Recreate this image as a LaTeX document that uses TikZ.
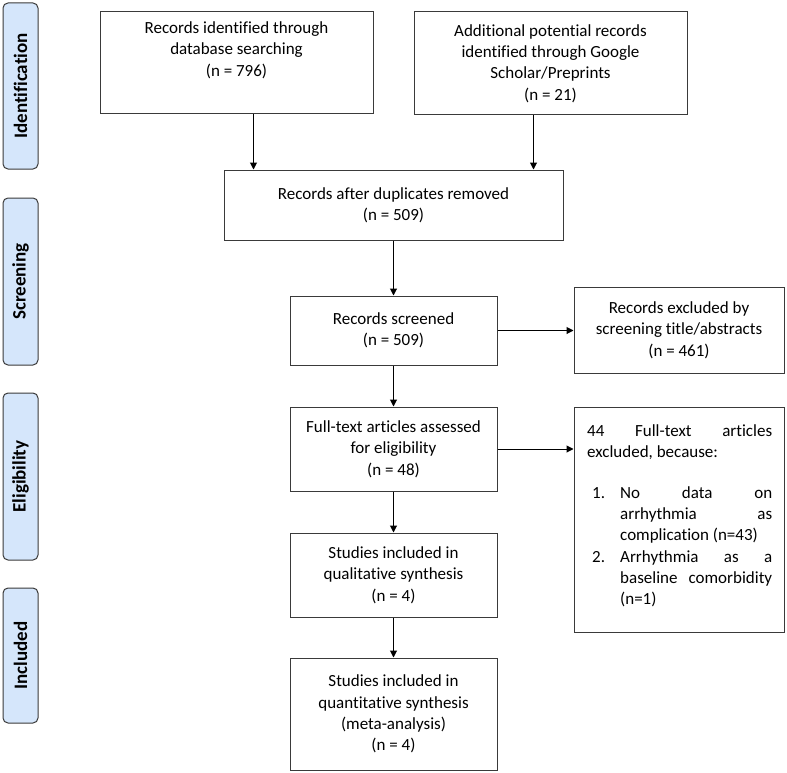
\documentclass[tikz,border=0pt]{standalone}
\usepackage{fontspec}
\setmainfont{Carlito}[Ligatures={NoCommon}]
\usetikzlibrary{arrows.meta,calc}
\definecolor{sidefill}{HTML}{D5E6FB}
\definecolor{edge}{HTML}{3A3A3A}
\begin{document}
\begin{tikzpicture}[x=1pt,y=-1pt,
  box/.style={draw=edge, line width=1pt, align=center, inner sep=0pt,
    font=\fontsize{17}{21.3}\selectfont},
  txt/.style={align=center, inner sep=0pt, font=\fontsize{17}{21.3}\selectfont},
  side/.style={draw=edge, fill=sidefill, rounded corners=5pt, line width=1pt,
    minimum height=35pt, rotate=90, inner sep=0pt,
    font=\fontsize{19}{22}\selectfont\bfseries},
  arr/.style={draw=black, line width=1pt, -{Triangle[length=7pt,width=7pt]}}
]
\useasboundingbox (0,0) rectangle (787,773);

% side labels
\node[side, minimum width=166pt] (s1) at (20.5,86) {Identification};
\node[side, minimum width=167pt] (s2) at (20.5,281.5) {Screening};
\node[side, minimum width=167pt] (s3) at (20.5,476.5) {Eligibility};
\node[side, minimum width=135pt] (s4) at (20.5,655.5) {Included};

% boxes
\node[box, minimum width=273pt, minimum height=102pt] (b1) at (236.5,63) {};
\node[txt] (t1) at (236.5,50) {Records identified through\\database searching\\(n = 796)};
\node[box, minimum width=273pt, minimum height=103pt] (b2) at (550.5,63.5)
  {Additional potential records\\identified through Google\\Scholar/Preprints\\(n = 21)};
\node[box, minimum width=339pt, minimum height=70pt] (b3) at (393.5,205)
  {Records after duplicates removed\\(n = 509)};
\node[box, minimum width=207pt, minimum height=69pt] (b4) at (393.5,330.5)
  {Records screened\\(n = 509)};
\node[box, minimum width=210pt, minimum height=86pt] (b5) at (679,330)
  {Records excluded by\\screening title/abstracts\\(n = 461)};
\node[box, minimum width=207pt, minimum height=84pt] (b6) at (393.5,449)
  {Full-text articles assessed\\for eligibility\\(n = 48)};
\node[box, minimum width=210pt, minimum height=225pt] (b7) at (679,519.5) {};
\node[anchor=north west, text width=185pt, align=justify, inner sep=0pt,
  font=\fontsize{17}{21.3}\selectfont] (t7) at (587,424) {%
  \parindent=0pt\hyphenpenalty=10000\exhyphenpenalty=10000\sloppy
  44 Full-text articles\linebreak excluded, because:\par
  \vspace{19.5pt}%
  \hangindent=33pt\hangafter=1
  \makebox[33pt][l]{\hspace{5pt}1.}No data on\linebreak arrhythmia as\linebreak complication (n=43)\par
  \hangindent=33pt\hangafter=1
  \makebox[33pt][l]{\hspace{5pt}2.}Arrhythmia as a\linebreak baseline comorbidity\linebreak (n=1)\par};
\node[box, minimum width=207pt, minimum height=84pt] (b8) at (393.5,575)
  {Studies included in\\qualitative synthesis\\(n = 4)};
\node[box, minimum width=207pt, minimum height=112pt] (b9) at (393.5,714)
  {Studies included in\\quantitative synthesis\\(meta-analysis)\\(n = 4)};

% connectors
\coordinate (a1) at ($(b3.north west)+(30,0)$);
\coordinate (a2) at ($(b3.north east)+(-30,0)$);
\draw[arr] (b1.south -| a1) -- (a1);
\draw[arr] (b2.south -| a2) -- (a2);
\draw[arr] (b3) -- (b4);
\draw[arr] (b4.east) -- (b4.east -| b5.west);
\draw[arr] (b4) -- (b6);
\draw[arr] (b6.east) -- (b6.east -| b7.west);
\draw[arr] (b6) -- (b8);
\draw[arr] (b8) -- (b9);
\end{tikzpicture}
\end{document}
